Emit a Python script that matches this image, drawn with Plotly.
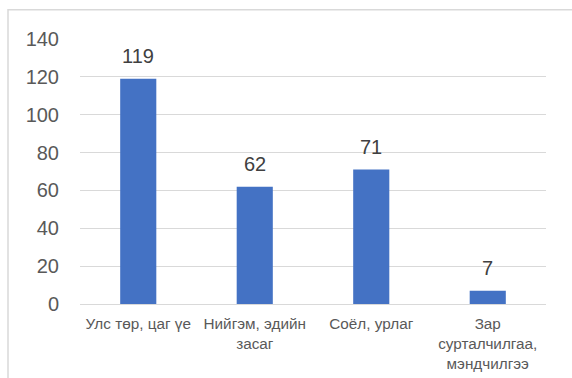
import plotly.graph_objects as go

categories = ["Улс төр, цаг үе", "Нийгэм, эдийн<br>засаг", "Соёл, урлаг",
              "Зар<br>сурталчилгаа,<br>мэндчилгээ"]
values = [119, 62, 71, 7]
y_ticks = [0, 20, 40, 60, 80, 100, 120, 140]

fig = go.Figure()
fig.add_trace(go.Bar(x=categories, y=values, marker_color="#4472C4",
                     marker_line_width=0))

for c, v in zip(categories, values):
    fig.add_annotation(x=c, y=v, text=str(v), showarrow=False,
                       yanchor="bottom", yshift=10,
                       font=dict(family="Liberation Sans, Arial", size=20, color="#404040"))

fig.add_shape(type="rect", xref="paper", yref="paper",
              x0=-0.1545, x1=1.08, y0=-0.3, y1=1.1107,
              line=dict(color="#d9d9d9", width=1.5), fillcolor="rgba(0,0,0,0)",
              layer="below")

fig.update_layout(
    width=572, height=378,
    margin=dict(l=80, r=26, t=39, b=74),
    paper_bgcolor="white", plot_bgcolor="white",
    bargap=0.69,
    showlegend=False,
    font=dict(family="Liberation Sans, Arial", color="#595959"),
)
fig.update_xaxes(showgrid=False, showline=False, ticks="", automargin=False,
                 tickfont=dict(size=15.3, color="#595959"), tickangle=0,
                 ticklabelstandoff=9)
fig.update_yaxes(range=[0, 140], tickvals=y_ticks, showgrid=True, automargin=False,
                 gridcolor="#d9d9d9", gridwidth=1, zeroline=True,
                 zerolinecolor="#d9d9d9", zerolinewidth=1, showline=False,
                 tickfont=dict(size=20, color="#595959"), ticklabelstandoff=20)

fig.write_html("out.html")
